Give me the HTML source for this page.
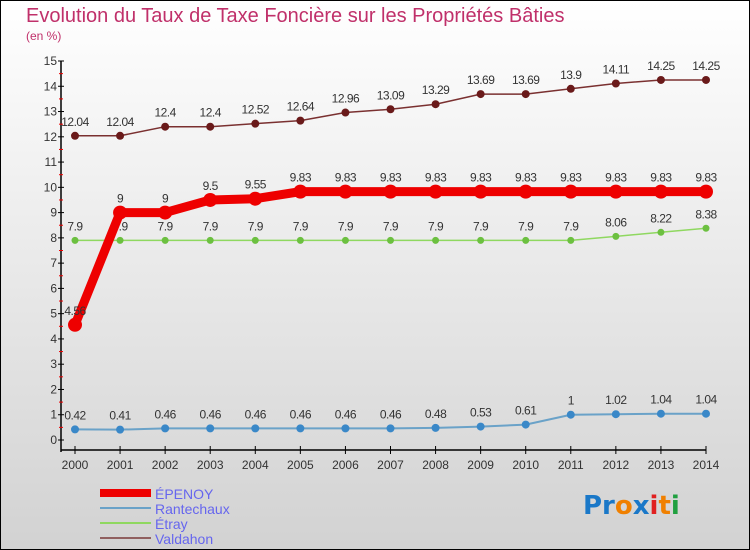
<!DOCTYPE html>
<html><head><meta charset="utf-8"><style>
body{margin:0;width:750px;height:550px;overflow:hidden;font-family:"Liberation Sans",sans-serif}
#c{position:absolute;left:0;top:0;width:748px;height:548px;border:1px solid #000;background:linear-gradient(#fff,#d2d2d2)}
</style></head><body>
<div id="c">
<svg id="s" width="750" height="550" style="position:absolute;left:-1px;top:-1px">
<text x="26" y="22" font-size="20" fill="#c0306a">Evolution du Taux de Taxe Foncière sur les Propriétés Bâties</text>
<text x="26" y="40" font-size="12" fill="#c0306a">(en %)</text>
<g id="g"></g>
<g>
<rect x="100" y="489" width="51" height="8" fill="#ee0000"/>
<text x="155" y="499" font-size="14" fill="#6666ee">ÉPENOY</text>
<rect x="100" y="507" width="51" height="2" fill="#6aa2c8"/>
<text x="155" y="514" font-size="14" fill="#6666ee">Rantechaux</text>
<rect x="100" y="522" width="51" height="2" fill="#8fd860"/>
<text x="155" y="529" font-size="14" fill="#6666ee">Étray</text>
<rect x="100" y="537" width="51" height="2" fill="#906060"/>
<text x="155" y="544" font-size="14" fill="#6666ee">Valdahon</text>
</g>
<text x="583" y="514" font-size="26" font-family="DejaVu Sans" font-weight="bold"><tspan fill="#1a78c8">Pr</tspan><tspan fill="#f08000">o</tspan><tspan fill="#1a78c8">x</tspan><tspan fill="#e02020">i</tspan><tspan fill="#f08000">t</tspan><tspan fill="#20a040">i</tspan></text>
</svg></div>
<script>
const years=[2000,2001,2002,2003,2004,2005,2006,2007,2008,2009,2010,2011,2012,2013,2014];
const epenoy=[4.56,9,9,9.5,9.55,9.83,9.83,9.83,9.83,9.83,9.83,9.83,9.83,9.83,9.83];
const rantechaux=[0.42,0.41,0.46,0.46,0.46,0.46,0.46,0.46,0.48,0.53,0.61,1,1.02,1.04,1.04];
const etray=[7.9,7.9,7.9,7.9,7.9,7.9,7.9,7.9,7.9,7.9,7.9,7.9,8.06,8.22,8.38];
const valdahon=[12.04,12.04,12.4,12.4,12.52,12.64,12.96,13.09,13.29,13.69,13.69,13.9,14.11,14.25,14.25];
const yTicks=[0,1,2,3,4,5,6,7,8,9,10,11,12,13,14,15];
const NS="http://www.w3.org/2000/svg";
const g=document.getElementById('g');
const X=i=>75+(706-75)*i/(years.length-1);
const Y=v=>440-v*(440-61)/15;
function mk(t,a){const e=document.createElementNS(NS,t);for(const k in a)e.setAttribute(k,a[k]);g.appendChild(e);return e;}
let e=mk('line',{x1:61,y1:61,x2:61,y2:452,stroke:'#000','stroke-width':1.5});

e=mk('line',{x1:61,y1:450,x2:706,y2:450,stroke:'#000','stroke-width':1.5});

yTicks.forEach(v=>{
 let t=mk('line',{x1:58,x2:64,y1:Y(v),y2:Y(v),stroke:'#000'});
 
 if(v<15){t=mk('line',{x1:59,x2:63,y1:Y(v+0.5),y2:Y(v+0.5),stroke:'#e00'});
 }
 t=mk('text',{x:57,y:Y(v)+4,'font-size':12,'text-anchor':'end',fill:'#333'});t.textContent=v;
 
});
years.forEach((y,i)=>{
 let t=mk('line',{x1:X(i),x2:X(i),y1:446,y2:454,stroke:'#000'});
 
 t=mk('text',{x:X(i),y:469,'font-size':12,'text-anchor':'middle',fill:'#333'});t.textContent=y;
 
});
function series(d,name,col,w,r,dot){
 const p=mk('polyline',{points:d.map((v,i)=>X(i)+','+Y(v)).join(' '),fill:'none',stroke:col,'stroke-width':w,'stroke-linejoin':'round'});
 
 d.forEach((v,i)=>{
  const c=mk('circle',{cx:X(i),cy:Y(v),r:r,fill:dot});
  
  const t=mk('text',{x:X(i),y:Y(v)-10,'font-size':12,'text-anchor':'middle',fill:'#333','letter-spacing':'-0.5'});t.textContent=v;
  
 });
}
series(valdahon,'valdahon','#7a3030',1.5,4,'#6a1a1a');
series(etray,'etray','#8fd860',1.5,3.5,'#6cc040');
series(rantechaux,'rantechaux','#6aa2c8',2,4,'#3a88c8');
series(epenoy,'epenoy','#ee0000',9,7,'#ee0000');
</script>
</body></html>
